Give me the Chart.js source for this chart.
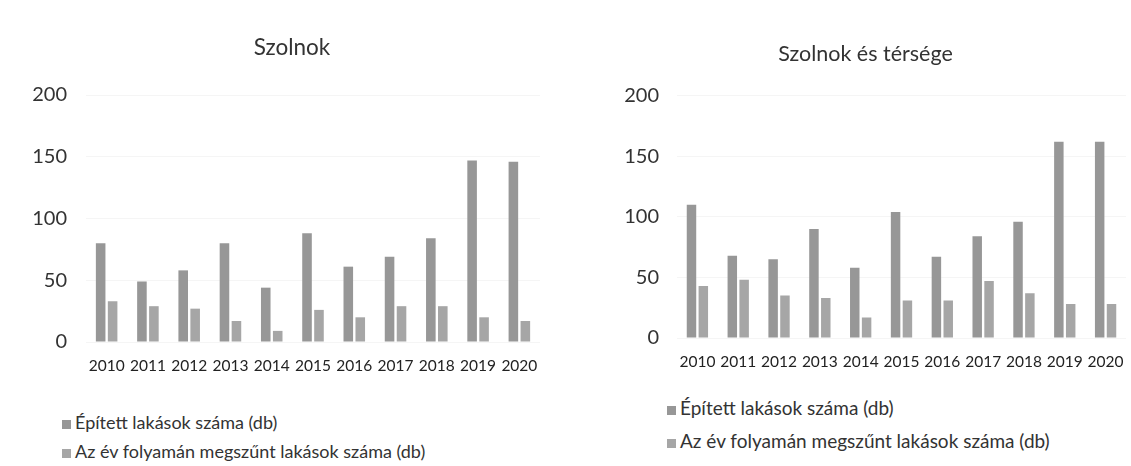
<!DOCTYPE html>
<html><head><meta charset="utf-8">
<script src="https://cdn.jsdelivr.net/npm/chart.js@4"></script>
<style>
body{margin:0;background:#fff;width:1131px;height:466px;overflow:hidden;position:relative;font-family:Lato,sans-serif;}
canvas{position:absolute;top:0;}
.leg{position:absolute;color:#333;white-space:nowrap;line-height:20px;}
.leg .sw{display:inline-block;width:9px;height:9px;margin-right:4px;vertical-align:0px;}
</style></head><body>
<canvas id="c1" width="560" height="385" style="left:0px"></canvas>
<canvas id="c2" width="526" height="380" style="left:605px"></canvas>
<script>
const years = ['2010','2011','2012','2013','2014','2015','2016','2017','2018','2019','2020'];
const seriesNames = ['Épített lakások száma (db)', 'Az év folyamán megszűnt lakások száma (db)'];
const szolnokBuilt      = [80, 49, 58, 80, 44, 88, 61, 69, 84, 147, 146];
const szolnokDemolished = [33, 29, 27, 17,  9, 26, 20, 29, 29,  20,  17];
const regionBuilt       = [110, 68, 65, 90, 58, 104, 67, 84, 96, 162, 162];
const regionDemolished  = [43, 48, 35, 33, 17,  31, 31, 47, 37,  28,  28];
const yTicks = [0, 50, 100, 150, 200];
const colors = ['#979797', '#a6a6a6'];

const titleShift = {
  id: 'titleShift',
  afterLayout(chart, args, opts) {
    const t = chart.titleBlock;
    if (t && opts.dx) { t.left += opts.dx; t.right += opts.dx; }
  }
};

function makeChart(id, title, built, demolished, g) {
  const ctx = document.getElementById(id);
  return new Chart(ctx, {
    type: 'bar',
    plugins: [titleShift],
    data: {
      labels: years,
      datasets: [
        {label: seriesNames[0], data: built, backgroundColor: colors[0], barPercentage: 0.8, categoryPercentage: 0.58},
        {label: seriesNames[1], data: demolished, backgroundColor: colors[1], barPercentage: 0.8, categoryPercentage: 0.58}
      ]
    },
    options: {
      responsive: false,
      animation: false,
      devicePixelRatio: 1,
      layout: {padding: {left: 0, right: g.right, top: 0, bottom: 0}},
      plugins: {
        legend: {display: false},
        tooltip: {enabled: false},
        titleShift: {dx: g.dx},
        title: {display: true, text: title, color: '#333',
          font: {family: 'Lato', size: g.tSize, weight: 'normal'},
          padding: {top: g.tTop, bottom: g.tBottom}}
      },
      scales: {
        x: {
          grid: {display: false},
          border: {display: false},
          ticks: {color: '#222', font: {family: 'Lato', size: 15.5}, padding: g.xPad, maxRotation: 0, autoSkip: false},
          afterFit: s => { s.height = g.xH; }
        },
        y: {
          min: 0, max: 200,
          grid: {color: 'rgba(0,0,0,0.04)', drawTicks: false},
          border: {display: false},
          ticks: {color: '#333', font: {family: 'Lato', size: 20}, padding: g.yPad},
          afterBuildTicks: s => { s.ticks = yTicks.map(v => ({value: v})); },
          afterFit: s => { s.width = g.yW; }
        }
      }
    }
  });
}

function makeLegend(chart, x, ys, size) {
  chart.data.datasets.forEach((ds, i) => {
    const d = document.createElement('div');
    d.className = 'leg';
    d.style.left = x + 'px';
    d.style.fontSize = size + 'px';
    d.style.top = (ys[i] - 10) + 'px';
    const sw = document.createElement('span');
    sw.className = 'sw';
    sw.style.background = ds.backgroundColor;
    d.appendChild(sw);
    d.appendChild(document.createTextNode(ds.label));
    document.body.appendChild(d);
  });
}

const ch1 = makeChart('c1', 'Szolnok', szolnokBuilt, szolnokDemolished,
  {right: 20, dx: 22, tSize: 22.5, tTop: 34, tBottom: 34, xPad: 7, xH: 43, yPad: 19, yW: 86});
const ch2 = makeChart('c2', 'Szolnok és térsége', regionBuilt, regionDemolished,
  {right: 5, dx: 0, tSize: 21.5, tTop: 41, tBottom: 29, xPad: 7, xH: 42, yPad: 18, yW: 72});
makeLegend(ch1, 62, [422, 451], 18);
makeLegend(ch2, 667, [408, 441], 19);
</script>
</body></html>
